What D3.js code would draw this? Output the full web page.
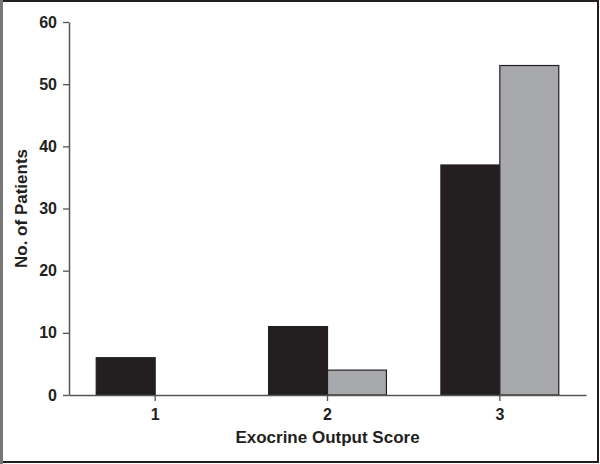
<!DOCTYPE html>
<meta charset="utf-8">
<style>
body { margin: 0; background: #fff; }
text { font-family: "Liberation Sans", Arial, sans-serif; font-weight: bold; fill: #231f20; }
</style>
<body>
<script src="https://d3js.org/d3.v7.min.js"></script>
<script>
var width = 600,
    height = 464;

// data
var scores = ["1", "2", "3"];
var seriesA = [6, 11, 37];   // black bars
var seriesB = [0, 4, 53];    // grey bars
var yTicks = [0, 10, 20, 30, 40, 50, 60];

var margin = {left: 69, right: 14, top: 22, bottom: 69};

var svg = d3.select("body").append("svg")
    .attr("width", width)
    .attr("height", height);

// frame round the figure
svg.append("rect")
    .attr("x", 1).attr("y", 1)
    .attr("width", width - 3).attr("height", height - 3)
    .attr("fill", "none")
    .attr("stroke", "#231f20")
    .attr("stroke-width", 2);
svg.append("line")
    .attr("x1", 1.5).attr("x2", 1.5)
    .attr("y1", 0).attr("y2", height)
    .attr("stroke", "#777")
    .attr("stroke-width", 3);

var x = d3.scaleBand()
    .domain(scores)
    .range([margin.left, width - margin.right])
    .paddingInner(0.316)
    .paddingOuter(0.158);

var sub = d3.scaleBand()
    .domain(["a", "b"])
    .range([0, x.bandwidth()]);

var y = d3.scaleLinear()
    .domain([0, 60])
    .range([height - margin.bottom, margin.top]);

var rows = scores.map(function(s, i) {
  return {score: s, vals: [{k: "a", v: seriesA[i]}, {k: "b", v: seriesB[i]}]};
});
var colors = {a: "#231f20", b: "#a7a9ac"};

var g = svg.selectAll("g.grp")
    .data(rows)
  .enter().append("g")
    .attr("class", "grp")
    .attr("transform", function(d) { return "translate(" + x(d.score) + ",0)"; });

g.selectAll("rect")
    .data(function(d) { return d.vals.filter(function(e) { return e.v > 0; }); })
  .enter().append("rect")
    .attr("x", function(d) { return sub(d.k); })
    .attr("y", function(d) { return y(d.v); })
    .attr("width", sub.bandwidth())
    .attr("height", function(d) { return y(0) - y(d.v); })
    .attr("fill", function(d) { return colors[d.k]; })
    .attr("stroke", "#231f20")
    .attr("stroke-width", 1.2);

// axes
var yAxis = svg.append("g")
    .attr("transform", "translate(" + margin.left + ",0)")
    .call(d3.axisLeft(y).tickValues(yTicks).tickSize(6).tickPadding(6).tickSizeOuter(0));

var xAxis = svg.append("g")
    .attr("transform", "translate(0," + y(0) + ")")
    .call(d3.axisBottom(x).tickSize(6).tickPadding(8).tickSizeOuter(0));

[yAxis, xAxis].forEach(function(a) {
  a.select(".domain").attr("stroke", "#555").attr("stroke-width", 1.5);
  a.selectAll(".tick line").attr("stroke", "#555").attr("stroke-width", 1.3);
  a.selectAll(".tick text")
      .attr("fill", "#231f20")
      .style("font-size", "16px")
      .style("font-weight", "bold")
      .style("font-family", "'Liberation Sans', Arial, sans-serif");
});

svg.append("text")
    .attr("x", x("2") + x.bandwidth() / 2)
    .attr("y", 443)
    .attr("text-anchor", "middle")
    .style("font-size", "17px")
    .text("Exocrine Output Score");

svg.append("text")
    .attr("transform", "translate(27," + (y(30)) + ") rotate(-90)")
    .attr("text-anchor", "middle")
    .style("font-size", "17px")
    .text("No. of Patients");
</script>
</body>
</html>
